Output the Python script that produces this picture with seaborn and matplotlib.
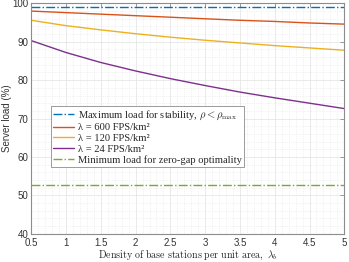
import numpy as np
import pandas as pd
import matplotlib
matplotlib.use("Agg")
import matplotlib.pyplot as plt
from matplotlib.ticker import MultipleLocator
import seaborn as sns

# density of base stations per unit area
lam_b = [0.5, 1.0, 1.5, 2.0, 2.5, 3.0, 3.5, 4.0, 4.5, 5.0]

# server load (%)
max_load = 99.1
load_600 = [98.0, 97.6, 97.2, 96.8, 96.4, 96.0, 95.6, 95.3, 94.9, 94.6]
load_120 = [95.6, 94.2, 93.1, 92.1, 91.2, 90.4, 89.7, 89.0, 88.4, 87.8]
load_24 = [90.3, 87.2, 84.6, 82.4, 80.4, 78.6, 76.9, 75.4, 74.0, 72.6]
min_load = 52.8

labels = [
    r"Maximum load for stability, $\rho < \rho_{\max}$",
    "λ = 600 FPS/km²",
    "λ = 120 FPS/km²",
    "λ = 24 FPS/km²",
    "Minimum load for zero-gap optimality",
]
colors = ["#0072BD", "#D95319", "#EDB120", "#7E2F8E", "#77AC30"]
styles = ["-.", "-", "-", "-", "-."]

sns.set_style("whitegrid")
plt.rcParams["font.family"] = ["Liberation Sans", "DejaVu Sans"]
plt.rcParams["mathtext.fontset"] = "cm"

df = pd.DataFrame({
    "lam_b": lam_b * 5,
    "load": [max_load] * len(lam_b) + load_600 + load_120 + load_24 + [min_load] * len(lam_b),
    "series": [lab for lab in labels for _ in lam_b],
})

fig = plt.figure(figsize=(3.49, 2.62), dpi=100)
ax = fig.add_axes([0.0897, 0.108, 0.8968, 0.879])

for lab, c, ls in zip(labels, colors, styles):
    sub = df[df["series"] == lab]
    sns.lineplot(data=sub, x="lam_b", y="load", ax=ax, color=c, linestyle=ls,
                 linewidth=1.0, label=lab)

ax.set_xlim(0.5, 5)
ax.set_ylim(40, 100)
ax.set_xticks(lam_b)
ax.set_xticklabels(["0.5", "1", "1.5", "2", "2.5", "3", "3.5", "4", "4.5", "5"])
ax.set_yticks([40, 50, 60, 70, 80, 90, 100])
ax.xaxis.set_minor_locator(MultipleLocator(0.1))
ax.yaxis.set_minor_locator(MultipleLocator(2))

ax.grid(which="major", color="#e6e6e6", linewidth=0.6, linestyle="-")
ax.grid(which="minor", color="#e6e6e6", linewidth=0.5, linestyle=":")
ax.set_axisbelow(True)

for sp in ax.spines.values():
    sp.set_color("#8c8c8c")
    sp.set_linewidth(0.8)
ax.tick_params(which="major", direction="in", length=3, width=0.6, color="#8c8c8c",
               top=True, right=True, labelsize=7, labelcolor="#333333")
ax.tick_params(axis="x", which="major", pad=3)
ax.tick_params(axis="y", which="major", pad=2)
ax.tick_params(which="minor", length=0, top=False, right=False)

ax.set_xlabel(r"$\mathrm{Density\ of\ base\ stations\ per\ unit\ area},\ \lambda_b$",
              fontsize=7.2, labelpad=0)
ax.set_ylabel("Server load (%)", fontsize=7, color="#333333", labelpad=0.5)

leg = ax.legend(loc="upper left", bbox_to_anchor=(0.062, 0.556),
                prop={"family": ["Liberation Serif", "DejaVu Serif"], "size": 7.6},
                frameon=True, fancybox=False, framealpha=1, edgecolor="#8c8c8c",
                borderpad=0.25, labelspacing=0.12, handlelength=2.0, handletextpad=0.3,
                borderaxespad=0)
leg.get_frame().set_linewidth(0.6)

fig.savefig("out.png", dpi=100)
